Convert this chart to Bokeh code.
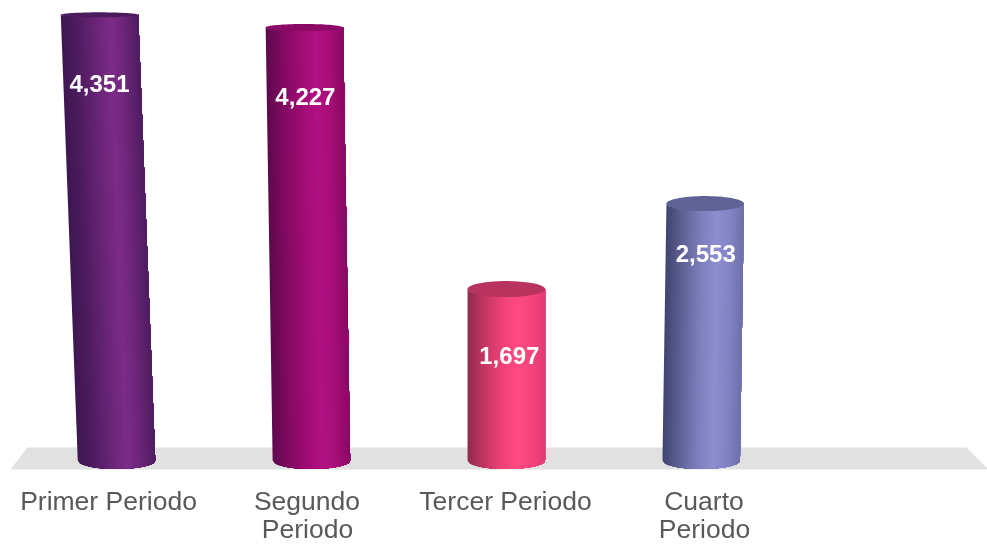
from bokeh.plotting import figure
from bokeh.models import Range1d
from bokeh.embed import file_html
from bokeh.resources import INLINE
from bokeh.core.properties import value
import numpy as np

# ---- data ----
labels_line1 = ["Primer Periodo", "Segundo", "Tercer Periodo", "Cuarto"]
labels_line2 = ["Periodo", "Periodo"]
line2_index = [1, 3]
values = [4351, 4227, 1697, 2553]
value_labels = ["4,351", "4,227", "1,697", "2,553"]

# ---- style ----
W, H = 987, 544
PX_PER_VALUE = 0.1022
BASE_PX = 460
X0_PX, DX_PX = 116, 194.9
lean_px = [-17, -7, 0, 4]
top_adjust_px = [-1, -1, 2, 4]   # perspective of the original's 3D view
top_hh_px = [2.5, 3.5, 8, 7.5]
BOTTOM_HH_PX = 8.5
BAR_W_PX = 77.5
label_gap_px = [69, 69, 66, 50]
label_dx_px = [0, 1, 3, 0.5]
text_x_px = [108, 306.5, 505, 703.5]
stops = [
    ["#3e1750", "#4e1c60", "#6a2577", "#7c2c88", "#6a2577", "#4d1c5f"],
    ["#5c0a4c", "#7f0a60", "#a00c74", "#b21182", "#a60e78", "#870a63"],
    ["#8e2b50", "#c0355f", "#ee4279", "#ff4a82", "#f5447c", "#e23b74"],
    ["#41446f", "#5c5f92", "#7d7fbc", "#8d8ecf", "#8384c4", "#6e70ab"],
]
top_colors = ["#4c1b5e", "#8a0a66", "#b8345f", "#5f6295"]
stop_pos = [0, 0.2, 0.45, 0.65, 0.82, 1]


def xd(px):
    return (px - X0_PX) / DX_PX


def yd(px):
    return (BASE_PX - px) / PX_PER_VALUE


p = figure(width=W, height=H, output_backend="svg", toolbar_location=None,
           x_range=Range1d(xd(0), xd(W)), y_range=Range1d(yd(H), yd(0)),
           min_border=0, outline_line_color=None, background_fill_color="white",
           border_fill_color="white")
p.axis.visible = False
p.grid.visible = False
p.styles = {"position": "fixed", "left": "0", "top": "0"}

# floor
p.patch([xd(v) for v in (27, 966, 987, 987, 10)], [yd(v) for v in (447, 447, 468, 469, 469)],
        fill_color="#e1e1e1", line_color=None)


def mix(cs, f):
    rgb = np.array([[int(c[i:i + 2], 16) for i in (1, 3, 5)] for c in cs], float)
    v = [np.interp(f, stop_pos, rgb[:, j]) for j in range(3)]
    return "#%02x%02x%02x" % tuple(int(round(a)) for a in v)


N = 40
for i, val in enumerate(values):
    dtop = lean_px[i] / DX_PX
    half = BAR_W_PX / 2 / DX_PX
    bh = BOTTOM_HH_PX / PX_PER_VALUE
    th = top_hh_px[i] / PX_PER_VALUE
    top = val - top_adjust_px[i] / PX_PER_VALUE
    # strips painted left to right, each one running on to the bar's right edge,
    # so that no seams show between them
    edges = np.linspace(0, 1, N + 1)[:-1]
    ff = np.linspace(0, 1, 41)
    for a in edges:
        fr = a + (1 - a) * ff
        c = np.sqrt(np.clip(1 - (2 * fr - 1) ** 2, 0, 1))
        xb = i - half + 2 * half * fr
        xs = np.concatenate([xb, (xb + dtop)[::-1]])
        ys = np.concatenate([-bh * c, (top - th * c)[::-1]])
        col = mix(stops[i], a + 0.5 / N)
        p.patch(xs, ys, fill_color=col, line_color=None)
    t = np.linspace(0, 2 * np.pi, 80)
    p.patch(i + dtop + half * np.cos(t), top + th * np.sin(t),
            fill_color=top_colors[i], line_color=None)
    p.text([i + dtop + xd(X0_PX + label_dx_px[i])], [top - label_gap_px[i] / PX_PER_VALUE],
           text=[value_labels[i]], text_color="white", text_align="center",
           text_baseline="middle", text_font=value("Liberation Sans"),
           text_font_style="bold", text_font_size="24px")

p.text([xd(v) for v in text_x_px], [yd(500.5)] * 4, text=labels_line1, text_color="#595959",
       text_align="center", text_baseline="middle", text_font=value("Liberation Sans"),
       text_font_size="26.5px")
p.text([xd(text_x_px[j] + 0.5) for j in line2_index], [yd(528.5)] * 2, text=labels_line2,
       text_color="#595959", text_align="center", text_baseline="middle",
       text_font=value("Liberation Sans"), text_font_size="26.5px")

open("out.html", "w").write(file_html(p, INLINE))
